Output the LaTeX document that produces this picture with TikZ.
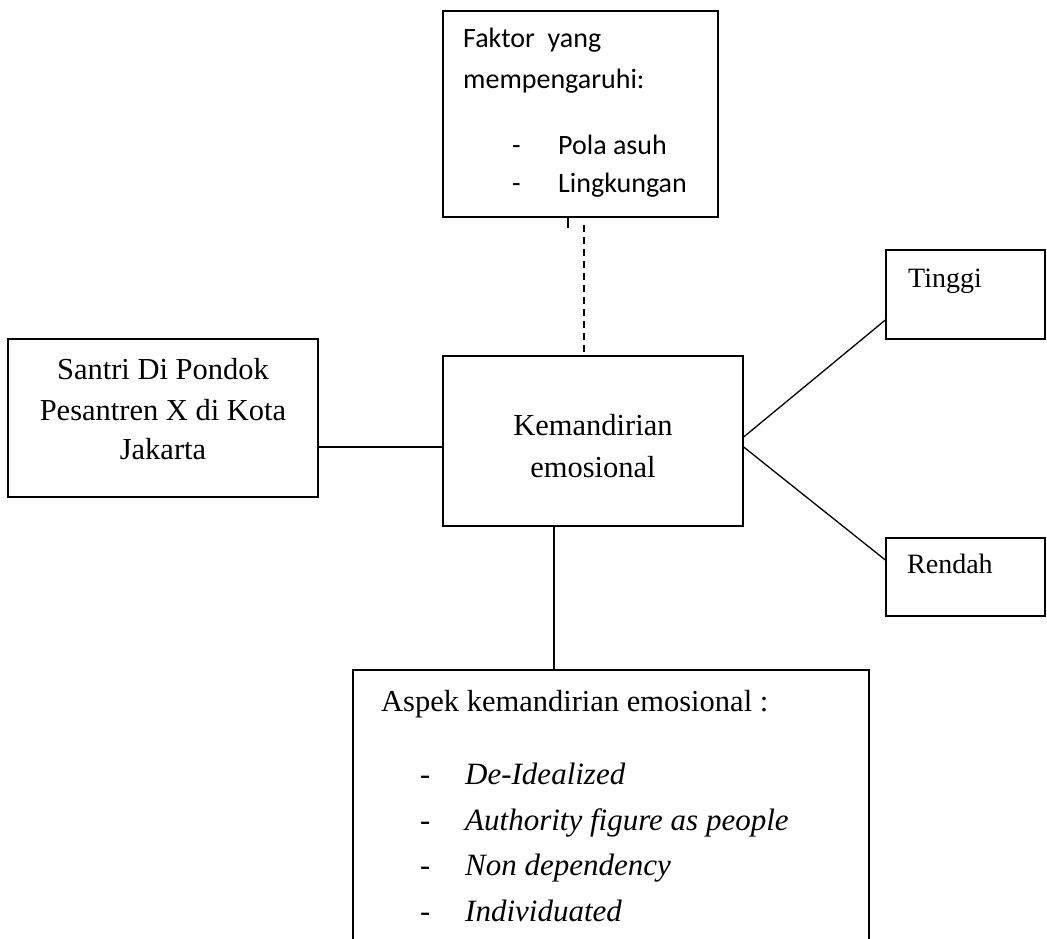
\documentclass[tikz,border=0pt]{standalone}
\usepackage{fontspec}
\setmainfont{Liberation Serif}
\newfontfamily\calib{Carlito}
\begin{document}
\begin{tikzpicture}[x=1pt,y=-1pt,
  box/.style={draw,line width=1.3pt,rectangle,inner sep=0pt},
  ser/.style={inner sep=0pt,font=\fontsize{30.5}{36}\selectfont},
  sml/.style={inner sep=0pt,font=\fontsize{28}{34}\selectfont},
  ita/.style={inner sep=0pt,font=\fontsize{31}{36}\selectfont\itshape},
  cal/.style={inner sep=0pt,font=\calib\fontsize{28}{32}\selectfont},
  conn/.style={line width=1.3pt}]
\useasboundingbox (0,0) rectangle (1047,939);
% boxes
\node[box,minimum width=275pt,minimum height=206pt] (top) at (580.5,114) {};
\node[box,minimum width=310pt,minimum height=158pt] (left) at (163,418) {};
\node[box,minimum width=300pt,minimum height=170pt] (center) at (593,441) {};
\node[box,minimum width=159pt,minimum height=89pt] (tinggi) at (965.5,294.5) {};
\node[box,minimum width=159pt,minimum height=78pt] (rendah) at (965.5,577) {};
\node[box,minimum width=516pt,minimum height=290pt] (bottom) at (611,815) {};
% top box text
\node[cal,anchor=base west] (f1) at (463,48) {Faktor\ \ yang};
\node[cal,anchor=base west] (f2) at (463,89) {mempengaruhi:};
\node[cal,anchor=base west] (f3d) at (512,155) {-};
\node[cal,anchor=base west] (f3) at (558,155) {Pola asuh};
\node[cal,anchor=base west] (f4d) at (512,193) {-};
\node[cal,anchor=base west] (f4) at (558,193) {Lingkungan};
% left box text
\node[ser,anchor=base] (s1) at (163,379) {Santri Di Pondok};
\node[ser,anchor=base] (s2) at (163,420) {Pesantren X di Kota};
\node[ser,anchor=base] (s3) at (163,459) {Jakarta};
% center text
\node[ser,anchor=base] (k1) at (593,435) {Kemandirian};
\node[ser,anchor=base] (k2) at (593,477) {emosional};
% right
\node[sml,anchor=base west] (t1) at (908,287) {Tinggi};
\node[sml,anchor=base west] (r1) at (907,573) {Rendah};
% bottom text
\node[ser,anchor=base west] (a0) at (381,711) {Aspek kemandirian emosional :};
\node[ser,anchor=base west] (a1d) at (420,784) {-};
\node[ita,anchor=base west] (a1) at (465,784) {De-Idealized};
\node[ser,anchor=base west] (a2d) at (420,830) {-};
\node[ita,anchor=base west] (a2) at (465,830) {Authority figure as people};
\node[ser,anchor=base west] (a3d) at (420,875) {-};
\node[ita,anchor=base west] (a3) at (465,875) {Non dependency};
\node[ser,anchor=base west] (a4d) at (420,921) {-};
\node[ita,anchor=base west] (a4) at (465,921) {Individuated};
% connectors
\coordinate (tick) at (568,228);
\coordinate (dtop) at (584,225);
\draw[conn] (top.south -| tick) -- (tick);
\draw[conn,dash pattern=on 7pt off 5pt] (dtop) -- (center.north -| dtop);
\draw[conn] (left.east |- 0,447) -- (center.west |- 0,447);
\draw[conn] (center.east |- 0,437) -- (tinggi.west |- 0,320);
\draw[conn] (center.east |- 0,447) -- (rendah.west |- 0,560);
\draw[conn] (center.south -| 554,0) -- (bottom.north -| 554,0);
\end{tikzpicture}
\end{document}
